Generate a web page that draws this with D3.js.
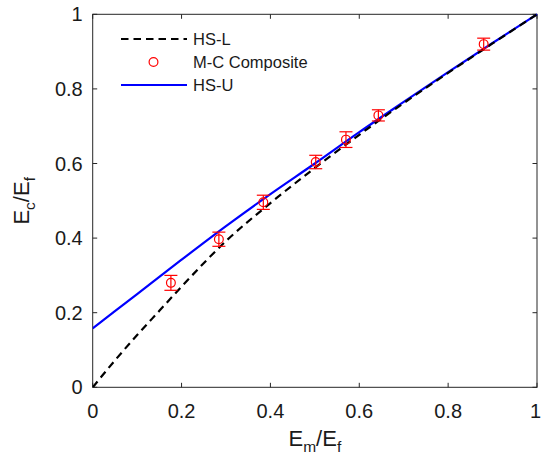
<!DOCTYPE html>
<html>
<head>
<meta charset="utf-8">
<script src="https://cdn.jsdelivr.net/npm/d3@7"></script>
<style>
  html, body { margin: 0; padding: 0; background: #fff; }
  svg { display: block; font-family: Arial, "Liberation Sans", Helvetica, sans-serif; }
</style>
</head>
<body>
<svg id="chart" width="541" height="457"></svg>
<script>
// Measured composite modulus ratios with error half-widths
const ratioEm = [0.176, 0.284, 0.384, 0.502, 0.570, 0.643, 0.880];
const ratioEc = [0.280, 0.397, 0.496, 0.604, 0.664, 0.729, 0.920];
const ratioErr = [0.020, 0.019, 0.019, 0.018, 0.021, 0.015, 0.016];

// Hashin-Shtrikman lower bound (x, y)
const hsLowerX = [0, 0.05, 0.10, 0.15, 0.20, 0.30, 0.40, 0.50, 0.60, 0.70, 0.80, 0.90, 1.00];
const hsLowerY = [0, 0.072, 0.140, 0.205, 0.270, 0.392, 0.494, 0.588, 0.677, 0.762, 0.843, 0.922, 1.00];

// Hashin-Shtrikman upper bound (x, y)
const hsUpperX = [0, 0.10, 0.20, 0.30, 0.40, 0.50, 0.60, 0.70, 0.80, 0.90, 1.00];
const hsUpperY = [0.158, 0.250, 0.342, 0.432, 0.518, 0.600, 0.684, 0.765, 0.845, 0.923, 1.00];

const xTicks = [0, 0.2, 0.4, 0.6, 0.8, 1];
const yTicks = [0, 0.2, 0.4, 0.6, 0.8, 1];
const legendLabels = ["HS-L", "M-C Composite", "HS-U"];

const W = 541;
const svg = d3.select("#chart");
const pL = 92.7, pR = 537, pT = 14.3, pB = 387.3;

const x = d3.scaleLinear().domain([0, 1]).range([pL, pR]);
const y = d3.scaleLinear().domain([0, 1]).range([pB, pT]);

const axisColor = "#262626";
const tickLen = 4.5;

// Box frame
svg.append("rect")
  .attr("x", pL).attr("y", pT)
  .attr("width", pR - pL).attr("height", pB - pT)
  .attr("fill", "none").attr("stroke", axisColor).attr("stroke-width", 1);

// Inward ticks on all four sides
const tickG = svg.append("g").attr("stroke", axisColor).attr("stroke-width", 1);
xTicks.forEach(t => {
  tickG.append("line").attr("x1", x(t)).attr("x2", x(t)).attr("y1", pB).attr("y2", pB - tickLen);
  tickG.append("line").attr("x1", x(t)).attr("x2", x(t)).attr("y1", pT).attr("y2", pT + tickLen);
});
yTicks.forEach(t => {
  tickG.append("line").attr("y1", y(t)).attr("y2", y(t)).attr("x1", pL).attr("x2", pL + tickLen);
  tickG.append("line").attr("y1", y(t)).attr("y2", y(t)).attr("x1", pR).attr("x2", pR - tickLen);
});

// Tick labels (the last x label is kept inside the canvas edge)
const fmt = d => d === 0 ? "0" : (d === 1 ? "1" : d3.format(".1f")(d));
svg.append("g").selectAll("text").data(xTicks).join("text")
  .attr("font-size", 20).attr("fill", "#1a1a1a")
  .each(function(d) {
    const t = d3.select(this).text(fmt(d)).attr("y", pB + 31);
    const half = this.getComputedTextLength() / 2;
    if (x(d) + half > W) t.attr("x", W).attr("text-anchor", "end");
    else t.attr("x", x(d)).attr("text-anchor", "middle");
  });
svg.append("g").selectAll("text").data(yTicks).join("text")
  .attr("x", pL - 10).attr("y", d => y(d)).attr("dy", "0.35em")
  .attr("text-anchor", "end").attr("font-size", 20).attr("fill", "#1a1a1a")
  .text(fmt);

// Axis titles with subscripts
function subLabel(g, parts) {
  const t = g.append("text").attr("font-size", 22).attr("fill", "#1a1a1a").attr("text-anchor", "middle");
  parts.forEach(p => {
    const s = t.append("tspan").text(p.t);
    if (p.sub) s.attr("font-size", 15.5).attr("dy", 6);
    else if (p.after) s.attr("dy", -6);
  });
  return t;
}
subLabel(svg.append("g").attr("transform", `translate(${(pL + pR) / 2},446)`),
  [{t: "E"}, {t: "m", sub: true}, {t: "/E", after: true}, {t: "f", sub: true}]);
subLabel(svg.append("g").attr("transform", `translate(29,${(pT + pB) / 2}) rotate(-90)`),
  [{t: "E"}, {t: "c", sub: true}, {t: "/E", after: true}, {t: "f", sub: true}]);

// Curves
const line = d3.line().x(d => x(d[0])).y(d => y(d[1])).curve(d3.curveMonotoneX);
svg.append("clipPath").attr("id", "plotclip")
  .append("rect").attr("x", pL).attr("y", pT - 2).attr("width", pR - pL + 2).attr("height", pB - pT + 2);

const plot = svg.append("g").attr("clip-path", "url(#plotclip)");

plot.append("path")
  .datum(hsUpperX.map((v, i) => [v, hsUpperY[i]]))
  .attr("d", line).attr("fill", "none")
  .attr("stroke", "#0000ff").attr("stroke-width", 2.2);

plot.append("path")
  .datum(hsLowerX.map((v, i) => [v, hsLowerY[i]]))
  .attr("d", line).attr("fill", "none")
  .attr("stroke", "#000").attr("stroke-width", 2.2)
  .attr("stroke-dasharray", "7.5,5");

// Measured points with error bars
const red = "#ff0000";
const pts = svg.append("g").attr("stroke", red).attr("fill", "none").attr("stroke-width", 1.2);
ratioEm.forEach((v, i) => {
  const cx = x(v), cy = y(ratioEc[i]);
  const y0 = y(ratioEc[i] - ratioErr[i]), y1 = y(ratioEc[i] + ratioErr[i]);
  const cap = 6.5;
  pts.append("line").attr("x1", cx).attr("x2", cx).attr("y1", y0).attr("y2", y1);
  pts.append("line").attr("x1", cx - cap).attr("x2", cx + cap).attr("y1", y0).attr("y2", y0);
  pts.append("line").attr("x1", cx - cap).attr("x2", cx + cap).attr("y1", y1).attr("y2", y1);
  pts.append("circle").attr("cx", cx).attr("cy", cy).attr("r", 4.4);
});

// Legend
const lg = svg.append("g");
const rows = [39, 62, 85];
lg.append("line").attr("x1", 121).attr("x2", 187).attr("y1", rows[0]).attr("y2", rows[0])
  .attr("stroke", "#000").attr("stroke-width", 2.2).attr("stroke-dasharray", "7.5,5");
lg.append("circle").attr("cx", 153.5).attr("cy", rows[1]).attr("r", 4.4)
  .attr("fill", "none").attr("stroke", red).attr("stroke-width", 1.2);
lg.append("line").attr("x1", 121).attr("x2", 187).attr("y1", rows[2]).attr("y2", rows[2])
  .attr("stroke", "#0000ff").attr("stroke-width", 2.2);
lg.selectAll("text.lbl").data(legendLabels).join("text")
  .attr("class", "lbl")
  .attr("x", 193).attr("y", (d, i) => rows[i]).attr("dy", "0.36em")
  .attr("font-size", 16.5).attr("fill", "#1a1a1a")
  .text(d => d);
</script>
</body>
</html>
